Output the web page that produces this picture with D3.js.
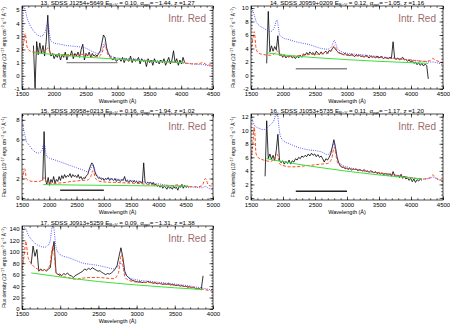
<!DOCTYPE html>
<html>
<head>
<meta charset="utf-8">
<script src="https://cdn.jsdelivr.net/npm/d3@7"></script>
<style>
  body { margin: 0; background: #fff; }
  text { font-family: "Liberation Sans", Arial, Helvetica, sans-serif; }
</style>
</head>
<body>
<svg id="chart" width="450" height="324"></svg>
<script>
// rest-frame grid shared by the composite templates
const tplW = [1500,1530,1550,1580,1620,1700,1800,1860,1905,1950,2000,2100,2200,2300,2400,2500,2600,2700,2760,2800,2850,2900,3000,3200,3400,3600,3800,4000,4200,4300,4340,4400,4500,4700,4800,4860,4920,5000]
const specStep = 25

// 13. J1254+5649
const p1Start = 1680
const p1Flux = [2.3,-0.9,2.6,1.6,2.5,1.7,2.3,1.5,2.6,4.6,2.0,1.5,1.7,1.3,1.6,1.4,1.7,1.2,1.6,1.4,1.8,1.2,1.6,1.5,1.9,1.3,1.7,1.5,1.8,1.4,2.0,2.4,1.2,1.7,1.5,1.8,1.4,1.7,1.5,1.6,1.5,1.7,1.9,2.5,3.1,2.9,2.1,1.7,1.5,1.3,1.2,1.4,1.1,1.2,1.3,1.1,1.4,1.0,1.3,1.2,1.1,1.5,1.0,1.3,1.1,1.2,1.4,0.9,1.3,1.1,1.2,0.7,1.3,1.0,1.2,0.8,1.3,1.0,1.1,0.9,1.2,1.0,1.3,0.8,1.1,1.4,0.9,1.2,1.9,1.0,1.3,0.8,1.2,0.9,1.4,1.0]
const p1Blue = [5.6,5.3,5.0,4.4,3.9,3.3,3.0,3.3,4.0,2.7,2.5,2.4,2.3,2.25,2.2,2.1,1.85,1.7,2.0,2.5,1.8,1.5,1.35,1.3,1.2,1.15,1.1,1.0,0.9,0.85,0.85,0.8,0.7]
const p1Red = [1.9,2.6,3.2,2.2,1.9,1.8,1.8,1.9,2.1,1.7,1.65,1.6,1.6,1.6,1.65,1.6,1.5,1.45,1.8,2.3,1.6,1.35,1.25,1.2,1.15,1.1,1.05,1.0,0.9,0.95,1.0,0.85,0.8]
const p1PowW = [1690,2000,2500,3000,3500,4050]
const p1Pow = [1.75,1.62,1.42,1.26,1.12,1.0]

// 14. J0959+0209
const p2Start = 1745
const p2Flux = [1.8,9.5,3.5,4.4,3.6,4.3,3.8,5.9,3.0,3.2,2.7,3.1,2.6,2.9,2.7,3.0,2.6,2.8,2.5,2.9,2.6,3.0,2.7,3.2,3.0,3.4,3.1,3.5,3.2,3.4,3.0,3.6,3.3,3.1,3.5,3.2,3.4,3.6,3.3,3.7,3.6,4.0,4.2,3.9,3.6,3.4,3.3,3.2,3.1,3.3,3.0,3.1,2.9,3.2,3.0,2.8,3.1,2.9,3.0,2.8,2.9,2.7,3.0,2.8,2.6,2.9,2.7,2.8,2.6,2.9,2.6,2.7,2.8,2.5,2.7,2.6,2.5,2.7,2.6,5.0,2.5,2.4,2.6,2.3,2.5,2.7,2.3,2.4,2.1,2.3,2.0,2.2,1.8,2.0,1.6,1.9,1.5,1.8,1.4,1.7,1.5,-0.5]
const p2Blue = [10.3,9.6,9.0,8.0,7.5,7.0,6.5,7.0,8.2,6.0,5.6,5.3,5.0,4.8,4.6,4.3,4.0,3.9,4.3,5.2,4.0,3.6,3.3,3.1,2.9,2.7,2.5,2.3,2.1,2.0,2.0,1.9,1.6]
const p2Red = [3.5,5.5,6.5,4.0,3.3,3.1,3.0,3.2,3.7,3.0,2.9,2.85,2.9,3.0,3.1,3.15,3.2,3.3,3.7,4.4,3.5,3.2,3.0,2.9,2.75,2.6,2.45,2.3,2.1,2.2,2.5,2.2,1.9]
const p2PowW = [1760,2000,2500,3000,3500,4000,4270]
const p2Pow = [3.35,3.05,2.65,2.35,2.1,1.9,1.8]

// 15. J0958+0213
const p3Start = 1880
const p3Flux = [1.8,6.8,1.9,1.4,2.1,1.3,1.9,1.6,2.2,1.5,1.9,1.7,2.2,1.8,2.3,2.0,2.4,2.1,2.3,2.2,2.5,2.1,2.4,2.2,2.3,2.1,2.4,2.0,2.2,1.9,2.1,2.0,2.3,2.4,2.9,3.3,3.6,3.4,2.8,2.4,2.2,2.0,2.1,1.9,2.0,1.8,2.0,1.9,2.1,1.8,2.0,1.9,1.8,2.0,1.7,1.9,1.8,1.7,1.9,1.8,2.2,1.7,1.8,1.6,1.8,1.7,1.6,1.8,1.6,1.7,1.5,1.7,1.6,1.5,3.6,1.6,1.5,1.6,1.5,1.6,1.4,1.6,1.3,1.4,1.2,1.3,1.1,1.3,1.0,1.2,1.1,0.9,1.2,1.0,1.1,0.9,1.2,1.0,1.1,0.8,1.2,1.1,1.4,1.0,1.3,1.1,1.2,1.1]
const p3Blue = [8.3,7.0,6.5,5.8,5.5,4.9,4.6,4.8,5.6,4.3,4.1,3.9,3.7,3.5,3.3,3.1,2.9,2.7,3.0,3.4,2.6,2.2,2.0,1.95,1.85,1.75,1.6,1.45,1.3,1.25,1.3,1.2,1.15,1.1,1.05,1.2,1.0,0.9]
const p3Red = [2.0,2.6,3.0,2.0,1.8,1.7,1.7,1.8,2.1,1.6,1.55,1.5,1.55,1.6,1.7,1.75,1.8,1.85,2.2,2.8,2.0,1.75,1.65,1.6,1.55,1.5,1.4,1.3,1.25,1.3,1.35,1.25,1.2,1.15,1.25,2.0,1.3,1.2]
const p3PowW = [1890,2500,3000,3500,4000,4550]
const p3Pow = [1.38,1.33,1.3,1.27,1.24,1.22]

// 16. J1053+5735
const p4Start = 1720
const p4Flux = [3.2,11.4,5.8,6.5,5.7,6.3,5.5,7.0,9.4,5.6,5.2,5.5,5.0,5.4,5.1,5.6,5.0,5.5,5.3,5.8,5.6,6.0,5.8,6.2,6.0,6.3,6.1,6.5,6.2,6.6,6.3,6.5,6.1,6.4,6.0,6.2,5.8,5.3,5.8,5.6,6.0,6.5,7.5,8.6,7.4,6.0,5.2,4.8,4.5,4.6,4.3,4.4,4.2,4.4,4.1,4.3,4.2,4.3,4.0,4.2,4.1,4.0,4.2,3.9,4.0,3.8,4.0,3.9,3.7,3.9,3.6,3.8,3.5,3.7,3.4,3.6,3.5,3.3,3.6,3.2,3.9,3.3,3.1,3.4,3.0,3.5,2.9,3.2,2.8,3.0,2.6,2.9,2.4,2.8,2.3,2.7,2.5,2.8,2.6]
const p4Blue = [12.0,11.3,10.8,10.5,10.3,10.1,10.8,11.5,12.8,9.5,8.5,8.0,7.6,7.3,7.1,7.0,6.8,6.4,7.2,8.2,5.8,5.0,4.6,4.1,3.8,3.6,3.3,3.0,2.8,2.9,3.1,2.8,2.5]
const p4Red = [5.8,8.0,10.5,6.5,5.9,5.6,5.4,5.7,6.5,5.0,4.8,4.6,4.6,4.7,4.8,4.9,5.0,5.1,5.8,7.5,5.3,4.7,4.4,4.1,3.8,3.6,3.3,3.0,2.8,3.0,3.4,2.9,2.6]
const p4PowW = [1740,2000,2500,3000,3500,4000,4170]
const p4Pow = [5.8,5.35,4.6,3.95,3.4,2.95,2.8]

// 17. J0913+5259
const p5Start = 1620
const p5Flux = [78,110,92,104,66,70,67,69,66,70,72,100,118,64,60,61,58,62,60,63,59,58,55,58,60,62,64,66,70,68,71,69,72,70,68,66,67,64,62,60,62,61,63,66,70,76,92,107,90,66,58,55,52,50,49,48,47,48,46,47,46,48,47,46,45,46,44,45,44,43,44,43,45,42,43,42,41,42,40,41,39,40,38,39,37,38,36,35,36,33,58]
const p5Blue = [140,142,140,130,122,112,108,115,148,105,95,90,85,80,78,76,73,70,75,80,62,55,51,48,45,42,38,33]
const p5Red = [70,95,118,90,80,70,67,75,110,62,58,55,52,54,55,55,54,53,62,95,55,50,47,46,43,40,36,31]
const p5PowW = [1620,2000,2500,3000,3500,3870]
const p5Pow = [63,56,48,42,37,34]

// titles
const names = ["13. SDSS J1254+5649", "14. SDSS J0959+0209", "15. SDSS J0958+0213", "16. SDSS J1053+5735", "17. SDSS J0913+5259"]
const ebv = ["0.10", "0.12", "0.16", "0.11", "0.09"]
const alphaOpt = ["\u22121.44", "\u22121.05", "\u22121.94", "\u22121.17", "\u22121.31"]
const zs = ["1.27", "1.16", "1.02", "1.20", "1.38"]

// tick labels
const xTicks45 = [1500,2000,2500,3000,3500,4000,4500]
const xTicks50 = [1500,2000,2500,3000,3500,4000,4500,5000]
const xTicks40 = [1500,2000,2500,3000,3500,4000]
const p1YTicks = [-1,0,1,2,3,4,5]
const p2YTicks = [-2,0,2,4,6,8,10]
const p3YTicks = [0,2,4,6,8]
const p4YTicks = [0,2,4,6,8,10,12]
const p5YTicks = [0,20,40,60,80,100,120,140]
// level of the horizontal marker bar
const barW = [2200, 3000]
const barY = [1, 1, 0.8, 1, 0]

const L = [22, 213], R = [251, 443]
const rows = [[6, 89], [114, 200], [226, 309]]

const panels = [
  {start: p1Start, flux: p1Flux, blue: p1Blue, red: p1Red, powW: p1PowW, pow: p1Pow, xDom: [1500,4500], yDom: [-1,5.3], xt: xTicks45, yt: p1YTicks, ym: 0.2, cols: L, row: rows[0], barCol: "#888"},
  {start: p2Start, flux: p2Flux, blue: p2Blue, red: p2Red, powW: p2PowW, pow: p2Pow, xDom: [1500,4500], yDom: [-2,10.3], xt: xTicks45, yt: p2YTicks, ym: 0.5, cols: R, row: rows[0], barCol: "#888"},
  {start: p3Start, flux: p3Flux, blue: p3Blue, red: p3Red, powW: p3PowW, pow: p3Pow, xDom: [1500,5000], yDom: [-0.2,8.6], xt: xTicks50, yt: p3YTicks, ym: 0.5, cols: L, row: rows[1], barCol: "#333"},
  {start: p4Start, flux: p4Flux, blue: p4Blue, red: p4Red, powW: p4PowW, pow: p4Pow, xDom: [1500,4500], yDom: [-0.3,12.4], xt: xTicks45, yt: p4YTicks, ym: 0.5, cols: R, row: rows[1], barCol: "#222"},
  {start: p5Start, flux: p5Flux, blue: p5Blue, red: p5Red, powW: p5PowW, pow: p5Pow, xDom: [1500,4000], yDom: [0,145], xt: xTicks40, yt: p5YTicks, ym: 5, cols: L, row: rows[2], barCol: "#777"}
]

const svg = d3.select("#chart")

function shifted(t, s, shift, size) {
  t.append("tspan").attr("baseline-shift", shift).attr("font-size", size).text(s)
}

function drawPanel(p, i) {
  const [x0, x1] = p.cols, [y0, y1] = p.row
  const x = d3.scaleLinear().domain(p.xDom).range([x0, x1])
  const y = d3.scaleLinear().domain(p.yDom).range([y1, y0])
  const g = svg.append("g")

  g.append("clipPath").attr("id", "clip" + i)
    .append("rect").attr("x", x0).attr("y", y0).attr("width", x1 - x0).attr("height", y1 - y0)
  const plot = g.append("g").attr("clip-path", "url(#clip" + i + ")")
  const line = d3.line().x(d => x(d[0])).y(d => y(d[1]))
  const smooth = d3.line().curve(d3.curveMonotoneX).x(d => x(d[0])).y(d => y(d[1]))

  const spec = p.flux.map((f, k) => [p.start + k * specStep, f])
  const blue = p.blue.map((f, k) => [tplW[k], f])
  const red = p.red.map((f, k) => [tplW[k], f])
  const pow = p.pow.map((f, k) => [p.powW[k], f])

  plot.append("path").datum(barW.map(w => [w, barY[i]])).attr("d", line)
    .attr("fill", "none").attr("stroke", p.barCol).attr("stroke-width", 1.4)
  plot.append("path").datum(spec).attr("d", line)
    .attr("fill", "none").attr("stroke", "#000").attr("stroke-width", 0.8)
  plot.append("path").datum(blue).attr("d", smooth)
    .attr("fill", "none").attr("stroke", "#3838ff").attr("stroke-width", 0.9).attr("stroke-dasharray", "0.9,1.3")
  plot.append("path").datum(red).attr("d", smooth)
    .attr("fill", "none").attr("stroke", "#ff4a1c").attr("stroke-width", 1).attr("stroke-dasharray", "3,1.8")
  plot.append("path").datum(pow).attr("d", smooth)
    .attr("fill", "none").attr("stroke", "#3de03d").attr("stroke-width", 1)

  // axes, IDL style ticks inside on all sides
  const xMinor = d3.range(p.xDom[0], p.xDom[1] + 1, 100)
  const yMinor = d3.range(Math.ceil(p.yDom[0] / p.ym) * p.ym, p.yDom[1], p.ym)
  const style = a => {
    a.select(".domain").remove()
    a.selectAll("line").attr("stroke", "#000").attr("stroke-width", 0.6)
    a.selectAll("text").attr("font-size", 6).attr("fill", "#000")
      .attr("font-family", "Liberation Sans, Arial, sans-serif")
  }
  g.append("g").attr("transform", `translate(0,${y1})`)
    .call(d3.axisBottom(x).tickValues(p.xt).tickSize(-3.5).tickPadding(3).tickFormat(d3.format("d"))).call(style)
  g.append("g").attr("transform", `translate(0,${y1})`)
    .call(d3.axisBottom(x).tickValues(xMinor).tickSize(-1.8).tickFormat("")).call(style)
  g.append("g").attr("transform", `translate(0,${y0})`)
    .call(d3.axisTop(x).tickValues(p.xt).tickSize(-3.5).tickFormat("")).call(style)
  g.append("g").attr("transform", `translate(0,${y0})`)
    .call(d3.axisTop(x).tickValues(xMinor).tickSize(-1.8).tickFormat("")).call(style)
  g.append("g").attr("transform", `translate(${x0},0)`)
    .call(d3.axisLeft(y).tickValues(p.yt).tickSize(-3.5).tickPadding(2.5).tickFormat(d => String(d))).call(style)
  g.append("g").attr("transform", `translate(${x0},0)`)
    .call(d3.axisLeft(y).tickValues(yMinor).tickSize(-1.8).tickFormat("")).call(style)
  g.append("g").attr("transform", `translate(${x1},0)`)
    .call(d3.axisRight(y).tickValues(p.yt).tickSize(-3.5).tickFormat("")).call(style)
  g.append("g").attr("transform", `translate(${x1},0)`)
    .call(d3.axisRight(y).tickValues(yMinor).tickSize(-1.8).tickFormat("")).call(style)

  g.append("rect").attr("x", x0).attr("y", y0).attr("width", x1 - x0).attr("height", y1 - y0)
    .attr("fill", "none").attr("stroke", "#000").attr("stroke-width", 0.7)

  // title
  const t = g.append("text").attr("x", (x0 + x1) / 2).attr("y", y0 - 1.3)
    .attr("text-anchor", "middle").attr("font-size", 6.2).attr("fill", "#000")
  t.append("tspan").text(names[i] + "   E")
  shifted(t, "B\u2212V", -1.4, 4.3)
  t.append("tspan").text(" = " + ebv[i] + ", \u03b1")
  shifted(t, "opt", -1.4, 4.3)
  t.append("tspan").text("= " + alphaOpt[i] + ", z =" + zs[i])

  g.append("text").attr("x", x1 - 7).attr("y", y0 + 16).attr("text-anchor", "end")
    .attr("font-size", 10).attr("fill", "#9e6b6b").text("Intr. Red")

  g.append("text").attr("x", (x0 + x1) / 2).attr("y", y1 + 13.5).attr("text-anchor", "middle")
    .attr("font-size", 5.5).attr("fill", "#000").text("Wavelength (\u00c5)")

  const yl = g.append("text").attr("transform", `translate(${x0 - 16},${(y0 + y1) / 2}) rotate(-90)`)
    .attr("text-anchor", "middle").attr("font-size", 4.8).attr("fill", "#000")
  yl.append("tspan").text("Flux density (10")
  shifted(yl, "\u221217", 1.8, 3.6)
  yl.append("tspan").text(" ergs cm")
  shifted(yl, "\u22122", 1.8, 3.6)
  yl.append("tspan").text(" s")
  shifted(yl, "\u22121", 1.8, 3.6)
  yl.append("tspan").text(" \u00c5")
  shifted(yl, "\u22121", 1.8, 3.6)
  yl.append("tspan").text(")")
}

panels.forEach(drawPanel)
</script>
</body>
</html>
